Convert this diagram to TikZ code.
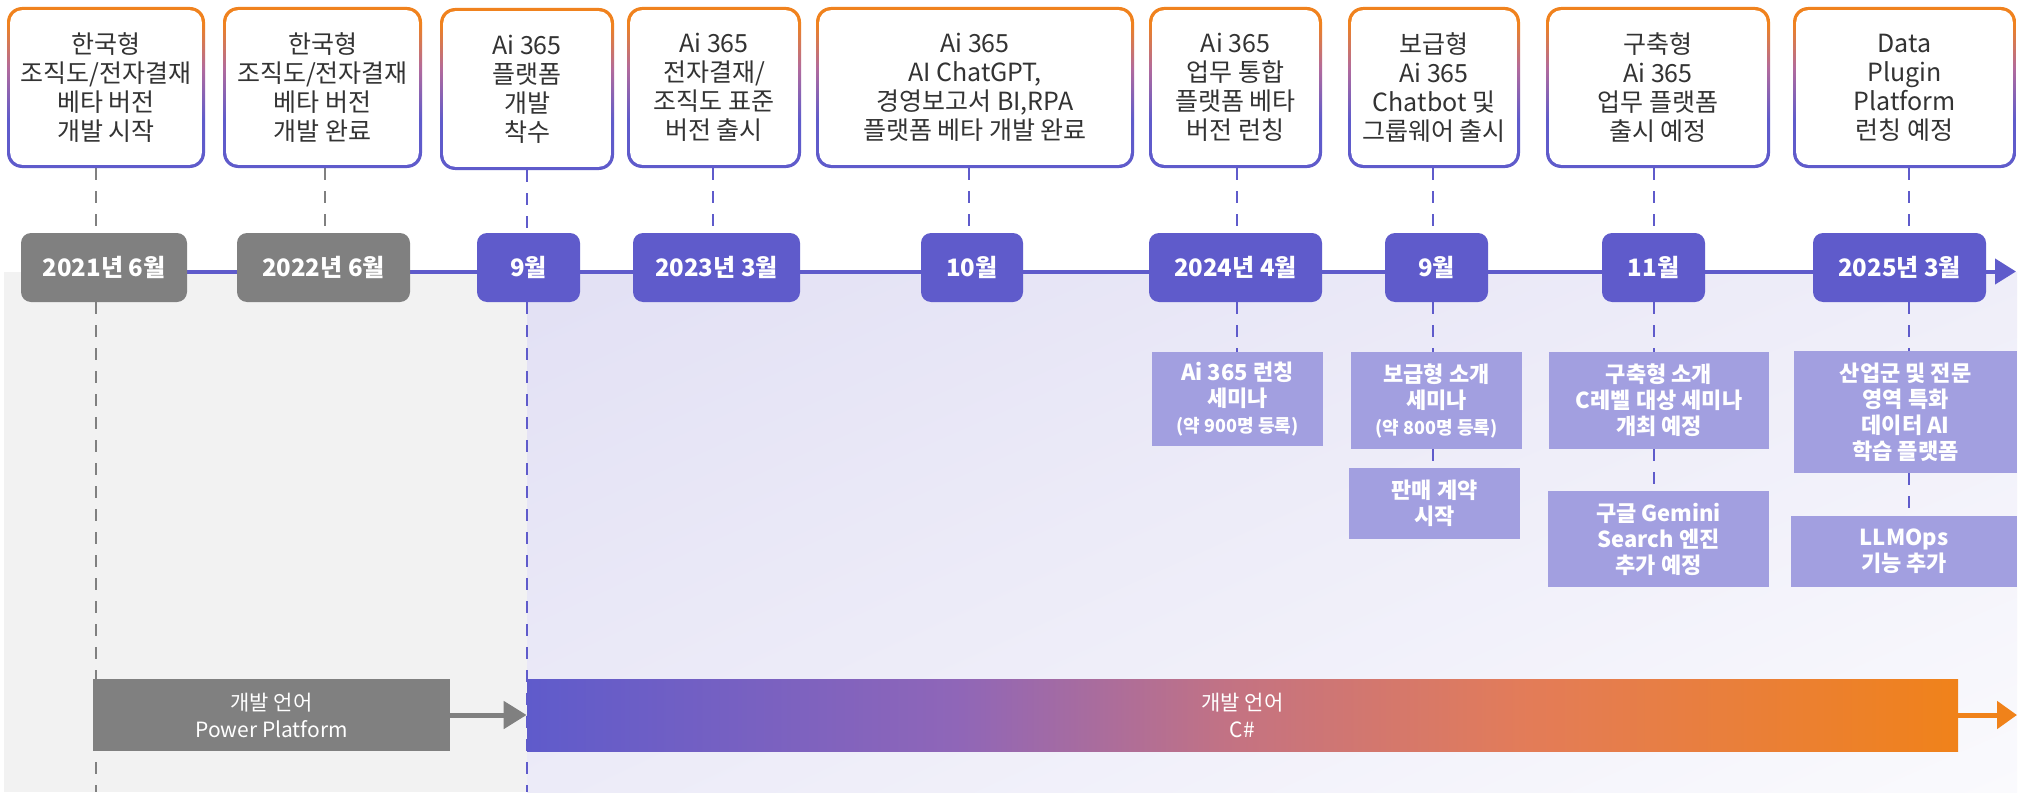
\documentclass[tikz,border=0pt]{standalone}
\usepackage{fontspec}
\setmainfont{Noto Sans CJK KR}
\usetikzlibrary{arrows.meta,shadings}
\definecolor{orng}{HTML}{F0821E}
\definecolor{orng2}{HTML}{F0821A}
\definecolor{purp}{HTML}{5F5BCB}
\definecolor{mauve}{HTML}{B26A9C}
\definecolor{gry}{HTML}{808080}
\definecolor{lav}{HTML}{A29FE0}
\definecolor{bggray}{HTML}{F2F2F2}
\definecolor{txt}{HTML}{333333}
\definecolor{gA}{HTML}{8F66B8}
\definecolor{gB}{HTML}{C57381}
\definecolor{gC}{HTML}{E37C58}
\definecolor{bgUL}{HTML}{E2E0F4}
\definecolor{bgUR}{HTML}{EFEEF9}
\definecolor{bgLL}{HTML}{ECEBF8}
\definecolor{bgLR}{HTML}{FAFAFD}
\pgfdeclareverticalshading{bxsh}{100bp}{color(0bp)=(purp); color(25bp)=(purp); color(40bp)=(purp); color(56bp)=(mauve); color(70bp)=(orng); color(100bp)=(orng)}
\pgfdeclarehorizontalshading{csh}{100bp}{color(0bp)=(purp); color(25bp)=(purp); color(40bp)=(gA); color(50bp)=(gB); color(60bp)=(gC); color(75bp)=(orng2); color(100bp)=(orng2)}
\pgfdeclarelayer{bg}
\pgfsetlayers{bg,main}
\begin{document}
\begin{tikzpicture}[x=0.5pt,y=-0.5pt,
  topbox/.style={shade, shading=bxsh, rounded corners=7.5pt, inner sep=0pt, align=center,
    text=txt, font=\fontsize{12.5}{14.5}\selectfont, minimum height=80.5pt,
    path picture={\fill[white, rounded corners=6pt]
      ([shift={(1.6pt,-1.6pt)}]path picture bounding box.north west) rectangle
      ([shift={(-1.6pt,1.6pt)}]path picture bounding box.south east);}},
  pill/.style={fill=purp, rounded corners=5pt, inner sep=0pt, text=white,
    font=\fontsize{12}{14}\selectfont\bfseries, minimum height=34.5pt},
  gpill/.style={pill, fill=gry},
  lowbox/.style={fill=lav, inner sep=0pt, align=center, text=white,
    font=\fontsize{11}{13}\selectfont\bfseries},
  barbox/.style={inner sep=0pt, align=center, text=white,
    font=\fontsize{10.5}{13.5}\selectfont, minimum height=36pt},
  vdg/.style={draw=gry, line width=1.4pt, dash pattern=on 6pt off 5.5pt},
  vdp/.style={vdg, draw=purp}]
\path[use as bounding box] (0,0) rectangle (2022,792);

% top boxes
\node[topbox, minimum width=99pt] (b1) at (106,87.5) {한국형\\조직도/전자결재\\베타 버전\\개발 시작};
\node[topbox, minimum width=99.5pt] (b2) at (322.5,87.5) {한국형\\조직도/전자결재\\베타 버전\\개발 완료};
\node[topbox, minimum width=87pt, minimum height=81pt] (b3) at (527,89) {Ai 365\\플랫폼\\개발\\착수};
\node[topbox, minimum width=87pt] (b4) at (714,87.5) {Ai 365\\전자결재/\\조직도 표준\\버전 출시};
\node[topbox, minimum width=159pt] (b5) at (975,87.5) {Ai 365\\AI ChatGPT,\\경영보고서 BI,RPA\\플랫폼 베타 개발 완료};
\node[topbox, minimum width=86.5pt] (b6) at (1235.5,87.5) {Ai 365\\업무 통합\\플랫폼 베타\\버전 런칭};
\node[topbox, minimum width=86pt] (b7) at (1434,87.5) {보급형\\Ai 365\\Chatbot 및\\그룹웨어 출시};
\node[topbox, minimum width=112pt] (b8) at (1658,87.5) {구축형\\Ai 365\\업무 플랫폼\\출시 예정};
\node[topbox, minimum width=111.5pt] (b9) at (1904.5,87.5) {Data\\Plugin\\Platform\\런칭 예정};

% pills
\node[gpill, minimum width=83pt] (p1) at (104,267.5) {2021년 6월};
\node[gpill, minimum width=86.5pt] (p2) at (323.5,267.5) {2022년 6월};
\node[pill, minimum width=51.5pt] (p3) at (528.5,267.5) {9월};
\node[pill, minimum width=83.5pt] (p4) at (716.5,267.5) {2023년 3월};
\node[pill, minimum width=51pt] (p5) at (972,267.5) {10월};
\node[pill, minimum width=86.5pt] (p6) at (1235.5,267.5) {2024년 4월};
\node[pill, minimum width=51.5pt] (p7) at (1436.5,267.5) {9월};
\node[pill, minimum width=51.5pt] (p8) at (1653.5,267.5) {11월};
\node[pill, minimum width=86.5pt] (p9) at (1899.5,267.5) {2025년 3월};

% lower boxes
\node[lowbox, minimum width=85.5pt, minimum height=47pt] (la) at (1237.5,399) {Ai 365 런칭\\세미나\\{\fontsize{9}{13}\selectfont (약 900명 등록)}};
\node[lowbox, minimum width=85.5pt, minimum height=48.5pt] (lb) at (1436.5,400.5) {보급형 소개\\세미나\\{\fontsize{9}{13}\selectfont (약 800명 등록)}};
\node[lowbox, minimum width=85.5pt, minimum height=35.5pt] (lb2) at (1434.5,503.5) {판매 계약\\시작};
\node[lowbox, minimum width=110pt, minimum height=48.5pt] (lc) at (1659,400.5) {구축형 소개\\C레벨 대상 세미나\\개최 예정};
\node[lowbox, minimum width=110.5pt, minimum height=48pt] (lc2) at (1658.5,539) {구글 Gemini\\Search 엔진\\추가 예정};
\node[lowbox, minimum width=111.5pt, minimum height=61pt] (ld) at (1905.5,412) {산업군 및 전문\\영역 특화\\데이터 AI\\학습 플랫폼};
\node[lowbox, minimum width=113pt, minimum height=35.5pt] (ld2) at (1904,551.5) {LLMOps\\기능 추가};

% bottom bars
\node[barbox, fill=gry, minimum width=178.5pt] (gbar) at (271.5,715) {개발 언어\\Power Platform};
\node[barbox, shade, shading=csh, minimum width=715.5pt] (cbar) at (1242.5,715) {개발 언어\\C\#};
\coordinate (oend) at (2017,715);
\draw[orng2, line width=2.5pt, -{Triangle[length=10pt,width=13.5pt]}] (cbar.east) -- (oend);
\draw[gry, line width=2.5pt, -{Triangle[length=11.5pt,width=13.5pt]}] (gbar.east) -- (cbar.west);

% coordinates of the vertical connectors
\coordinate (x1) at (96,0);
\coordinate (x2) at (325,0);
\coordinate (x3) at (527,0);
\coordinate (x4) at (713,0);
\coordinate (x5) at (969,0);
\coordinate (x6) at (1237,0);
\coordinate (x7) at (1433,0);
\coordinate (x8) at (1654,0);
\coordinate (x9) at (1909,0);
\coordinate (bot) at (0,792);
\coordinate (tl0) at (187,271.5);
\coordinate (tl1) at (2016,271.5);

\begin{pgfonlayer}{bg}
\fill[white] (0,0) rectangle (2022,792);
\fill[bggray] (4,272) rectangle (527,792);
\shade[upper left=bgUL, upper right=bgUR, lower left=bgLL, lower right=bgLR] (527,272) rectangle (2017,792);
\draw[vdg] (b1.south -| x1) -- (p1.north -| x1);
\draw[vdg] (p1.south -| x1) -- (bot -| x1);
\draw[vdg] (b2.south -| x2) -- (p2.north -| x2);
\draw[vdp] (b3.south -| x3) -- (p3.north -| x3);
\draw[vdp] (p3.south -| x3) -- (bot -| x3);
\draw[vdp] (b4.south -| x4) -- (p4.north -| x4);
\draw[vdp] (b5.south -| x5) -- (p5.north -| x5);
\draw[vdp] (b6.south -| x6) -- (p6.north -| x6);
\draw[vdp] (p6.south -| x6) -- (la.north -| x6);
\draw[vdp] (b7.south -| x7) -- (p7.north -| x7);
\draw[vdp] (p7.south -| x7) -- (lb.north -| x7);
\draw[vdp] (lb.south -| x7) -- (lb2.north -| x7);
\draw[vdp] (b8.south -| x8) -- (p8.north -| x8);
\draw[vdp] (p8.south -| x8) -- (lc.north -| x8);
\draw[vdp] (lc.south -| x8) -- (lc2.north -| x8);
\draw[vdp] (b9.south -| x9) -- (p9.north -| x9);
\draw[vdp] (p9.south -| x9) -- (ld.north -| x9);
\draw[vdp] (ld.south -| x9) -- (ld2.north -| x9);
\draw[purp, line width=2pt, -{Triangle[length=10.5pt,width=12.5pt]}] (tl0) -- (tl1);
\end{pgfonlayer}
\end{tikzpicture}
\end{document}
